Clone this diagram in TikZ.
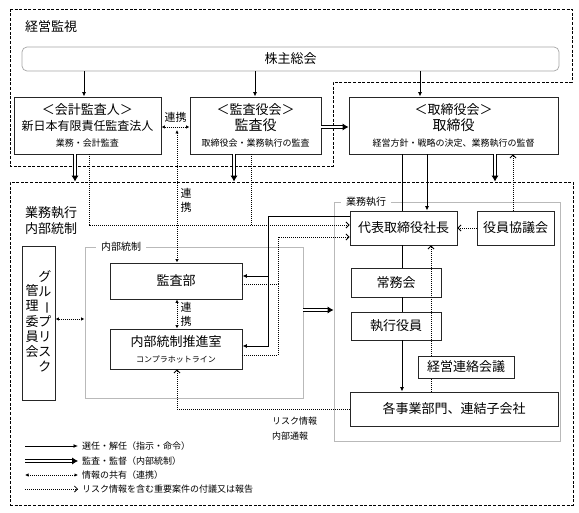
\documentclass[tikz,border=0pt]{standalone}
\usepackage{fontspec}
\setmainfont{Noto Sans CJK JP}
\usepackage{tikz}
\usetikzlibrary{arrows.meta}
\newcommand{\jfs}[2]{\fontsize{#1}{#2}\selectfont}

\begin{document}
\begin{tikzpicture}[
    x=1pt, y=-1pt,
    unitbox/.style={draw=black!85, line width=0.9pt, fill=white, inner sep=0pt, align=center, font=\jfs{13}{16}},
    zone/.style={draw, dash pattern=on 3pt off 1.6pt, line width=0.9pt, inner sep=0pt},
    panel/.style={draw=gray!55, line width=0.9pt, inner sep=0pt},
    paneltag/.style={fill=white, inner xsep=5pt, inner ysep=1pt, font=\jfs{10}{12}},
    zonetitle/.style={inner sep=0pt, align=left, font=\jfs{13}{16}},
    caption/.style={inner sep=0pt, align=left, font=\jfs{9}{15}},
    tagv/.style={inner sep=0pt, align=center, font=\jfs{11}{14}},
    link/.style={line width=0.9pt},
    elect/.style={line width=0.9pt, -{Latex[length=4.5pt,width=4pt]}},
    superv/.style={draw=white, line width=1.6pt, -{Latex[length=6pt,width=7.5pt,color=black,fill=black]},
        preaction={draw=black, line width=3.6pt, arrows=-, shorten >=5pt}},
    share/.style={dash pattern=on 0.8pt off 1.2pt, line width=0.8pt, {Latex[length=3.5pt,width=3.5pt]}-{Latex[length=3.5pt,width=3.5pt]}},
    report/.style={dash pattern=on 0.8pt off 1.2pt, line width=0.8pt, -{Straight Barb[length=3pt,width=6pt]}},
    reportline/.style={dash pattern=on 0.8pt off 1.2pt, line width=0.8pt}
]
    \useasboundingbox (0,0) rectangle (579,513);

    % Zones
    \draw[zone] (10,9) -- (572,9) -- (572,82) -- (333,82) -- (333,166) -- (10,166) -- cycle;
    \node[zone, minimum width=563, minimum height=323] (execzone) at (291.5,343.5) {};
    \node[panel, minimum width=218, minimum height=151] (ctrlpanel) at (194,322.5) {};
    \node[panel, minimum width=226, minimum height=239] (execpanel) at (447,321.5) {};
    \node[paneltag] at (121,247) {内部統制};
    \node[paneltag] at (366,202) {業務執行};
    \node[zonetitle, anchor=west] at (25,27) {経営監視};
    \node[zonetitle, anchor=west] at (25,221) {業務執行\\内部統制};

    % Main entities
    \node[unitbox, draw=gray!70, line width=0.7pt, rounded corners=5pt, minimum width=537, minimum height=24] (meeting) at (290.5,59) {株主総会};
    \node[unitbox, minimum width=147, minimum height=57] (auditor) at (87.5,125.5) {＜会計監査人＞\\{\jfs{12}{16}新日本有限責任監査法人}\\{\jfs{9}{12}業務・会計監査}};
    \node[unitbox, minimum width=131, minimum height=57] (kansa) at (255.5,125.5) {＜監査役会＞\\{\jfs{14}{16}監査役}\\{\jfs{9}{12}取締役会・業務執行の監査}};
    \node[unitbox, minimum width=209, minimum height=57] (board) at (453.5,125.5) {＜取締役会＞\\{\jfs{14}{16}取締役}\\{\jfs{9}{12}経営方針・戦略の決定、業務執行の監督}};
    \node[unitbox, minimum width=107, minimum height=34] (president) at (403.5,228) {代表取締役社長};
    \node[unitbox, minimum width=77, minimum height=34] (council) at (515.5,228) {役員協議会};
    \node[unitbox, minimum width=90, minimum height=29] (managing) at (396,282.5) {常務会};
    \node[unitbox, minimum width=90, minimum height=28] (officers) at (396,326) {執行役員};
    \node[unitbox, minimum width=208, minimum height=34] (divisions) at (454,409) {各事業部門、連結子会社};
    \node[unitbox, minimum width=132, minimum height=36] (auditdept) at (176,281) {監査部};
    \node[unitbox, minimum width=132, minimum height=40] (compliance) at (176,349) {内部統制推進室\\{\jfs{8}{11}コンプラホットライン}};
    \node[unitbox, minimum width=33, minimum height=154, font=\jfs{13}{15}] (riskcomm) at (38.5,323) {\begin{tabular}[c]{@{}c@{}}管\\理\\委\\員\\会\end{tabular}\begin{tabular}[c]{@{}c@{}}グ\\ル\\\rotatebox[origin=c]{-90}{ー}\\プ\\リ\\ス\\ク\end{tabular}};

    % Relationships
    \draw[elect] (meeting.south -| 84,0) -- (auditor.north -| 84,0);
    \draw[elect] (meeting.south -| 255,0) -- (kansa.north -| 255,0);
    \draw[elect] (meeting.south -| 420,0) -- (board.north -| 420,0);
    \draw[share] (auditor.east |- 0,127) -- (kansa.west |- 0,127) node[midway, yshift=10pt, tagv] {連携};
    \draw[superv] (kansa.east |- 0,127) -- (board.west |- 0,127);
    \coordinate (kansalink) at (177,130);
    \draw[share] (kansalink) -- (auditdept.north -| 177,0);
    \node[tagv] at (186,200) {連\\携};
    \draw[share] (auditdept.south -| 177,0) -- (compliance.north -| 177,0);
    \node[tagv] at (186,314) {連\\携};
    \draw[superv] (auditor.south -| 75,0) -- (execzone.north -| 75,0);
    \draw[superv] (kansa.south -| 234,0) -- (execzone.north -| 234,0);
    \draw[superv] (board.south -| 495,0) -- (execzone.north -| 495,0);
    \draw[report] (auditor.south -| 89,0) |- (president.west |- 0,225);
    \draw[reportline] (kansa.south -| 251,0) -- ++(0,71);

    \draw[elect] (board.south -| 427,0) -- (president.north -| 427,0);
    \draw[link] (board.south -| 402,0) -- (president.north -| 402,0);
    \draw[link] (president.south -| 402,0) -- (managing.north -| 402,0);
    \draw[link] (managing.south -| 402,0) -- (officers.north -| 402,0);
    \draw[elect] (officers.south -| 402,0) -- (divisions.north -| 402,0);
    \draw[report] (council.north -| 513,0) -- (board.south -| 513,0);
    \draw[report] (council.west) -- (president.east);
    \draw[report] (divisions.north -| 431,0) -- (president.south -| 431,0);
    \node[unitbox, minimum width=96, minimum height=22] (liaison) at (466,367) {経営連絡会議};

    \coordinate (cmdjoint) at (268,276);
    \draw[elect] (president.west |- 0,216) -| (cmdjoint) -- (auditdept.east |- cmdjoint);
    \draw[elect] (cmdjoint) |- (compliance.east |- 0,346);
    \coordinate (rptjoint) at (278,284);
    \draw[report] (auditdept.east |- rptjoint) -- (rptjoint) |- (president.west |- 0,237);
    \draw[reportline] (compliance.east |- 0,355) -| (rptjoint);
    \draw[report] (divisions.west) -| (compliance.south -| 177,0);
    \draw[share] (riskcomm.east |- 0,319) -- (ctrlpanel.west |- 0,319);
    \draw[superv] (ctrlpanel.east |- 0,310) -- (execpanel.west |- 0,310);
    \node[caption, anchor=west] at (272,429) {リスク情報\\内部通報};

    % Legend
    \coordinate (key1) at (25,446);
    \coordinate (key2) at (25,461);
    \coordinate (key3) at (25,475);
    \coordinate (key4) at (25,489);
    \node[caption, anchor=west] (key1t) at (82,446) {選任・解任（指示・命令）};
    \node[caption, anchor=west] (key2t) at (82,461) {監査・監督（内部統制）};
    \node[caption, anchor=west] (key3t) at (82,475) {情報の共有（連携）};
    \node[caption, anchor=west] (key4t) at (82,489) {リスク情報を含む重要案件の付議又は報告};
    \draw[elect] (key1) -- ([xshift=-4pt]key1t.west);
    \draw[superv] (key2) -- ([xshift=-4pt]key2t.west);
    \draw[share] (key3) -- ([xshift=-4pt]key3t.west);
    \draw[report] (key4) -- ([xshift=-4pt]key4t.west);
\end{tikzpicture}
\end{document}
